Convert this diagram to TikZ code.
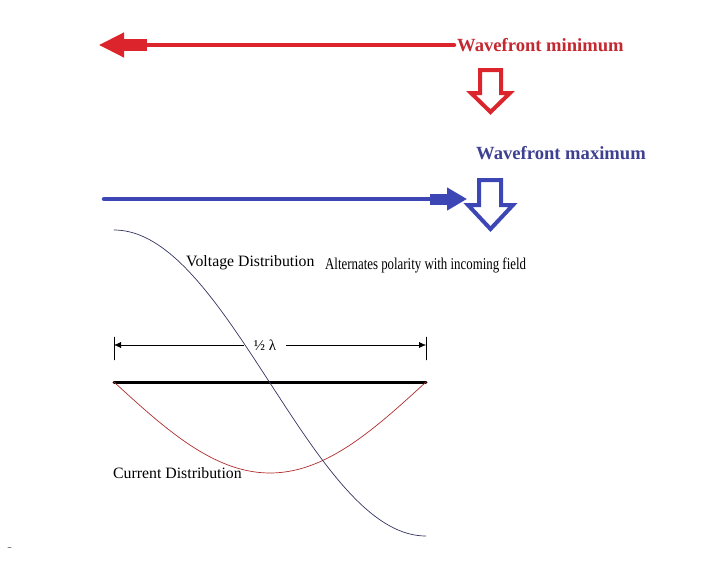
\documentclass[tikz,border=0pt]{standalone}
\usepackage{fontspec}
\setmainfont{Liberation Serif}
\usepackage{xcolor}
\usetikzlibrary{arrows.meta,positioning}

\definecolor{minred}{RGB}{220,36,44}
\definecolor{mintext}{RGB}{196,40,48}
\definecolor{maxblue}{RGB}{60,70,180}
\definecolor{maxtext}{RGB}{62,64,146}
\definecolor{voltline}{RGB}{52,52,96}
\definecolor{currline}{RGB}{176,44,44}

\begin{document}
\begin{tikzpicture}[x=1pt, y=-1pt, line join = round, line cap = round,
    wavelabel/.style={font=\fontsize{18.6}{20}\selectfont\bfseries, inner sep=3pt, anchor=west},
    distlabel/.style={font=\fontsize{15.8}{18}\selectfont, inner sep=0pt, anchor=west},
    hollow/.style={line width=4pt, line join=miter},
    dimarrow/.style={-{Latex[length=7pt,width=6pt]}, thin}]

                  \useasboundingbox (0,0) rectangle (705,570);

                  % wavefronts
                  \node [wavelabel, text=mintext] (minlbl) at (454,45) {Wavefront minimum};
                  \node [wavelabel, text=maxtext] (maxlbl) at (473,153) {Wavefront maximum};
                  \coordinate (redtip) at (99,45);
                  \coordinate (bluestart) at (104,199);
                  \coordinate (bluetip) at (467,199);

                  % half wave element
                  \coordinate (feedL) at (114,382);
                  \coordinate (feedR) at (426,382);
                  \coordinate (dimL) at (114,345);
                  \coordinate (dimR) at (426,345);
                  \node [font=\fontsize{15}{18}\selectfont, inner xsep=10pt, inner ysep=0pt] (halflbl) at (265,345) {½ λ};

                  \node [distlabel] (voltlbl) at (186,263) {Voltage Distribution};
                  \node [distlabel, font=\fontsize{16.5}{18}\selectfont, xscale=0.78, transform shape] (altlbl) at (325,265) {Alternates polarity with incoming field};
                  \node [distlabel] (currlbl) at (113,473) {Current Distribution};

                  \begin{scope}
                    % red arrow to the left
                    \draw [minred, line width=4.5pt, -{Triangle[length=25pt,width=24pt]}] (minlbl.west) -- (redtip);
                    \draw [minred, line width=12pt, line cap=butt] (123,45) -- (147,45);
                    \draw [hollow, minred] (480,70) -- (501,70) -- (501,93) -- (510,93) -- (490.5,112) -- (471,93) -- (480,93) -- cycle;
                    % blue arrow to the right
                    \draw [maxblue, line width=4.5pt, -{Triangle[length=20pt,width=22pt]}] (bluestart) -- (bluetip);
                    \draw [maxblue, line width=11pt, line cap=butt] (430,199) -- (448,199);
                    \draw [hollow, maxblue] (479,180) -- (501,180) -- (501,205) -- (513,205) -- (490.5,229) -- (468,205) -- (479,205) -- cycle;
                  \end{scope}

                  \begin{scope}
                    \draw [thin] (dimL) ++(0,-8) -- ++(0,23);
                    \draw [thin] (dimR) ++(0,-8) -- ++(0,23);
                    \draw [dimarrow] (halflbl) -- (dimL);
                    \draw [dimarrow] (halflbl) -- (dimR);
                    \draw [line width=3pt] (feedL) -- (feedR);
                    \draw [currline, line width=0.7pt] plot [domain=0:1, samples=80] ({114+312*\x},{382+91*sin(180*\x)});
                    \draw [voltline, line width=0.7pt] plot [domain=0:1, samples=80] ({114+312*\x},{383-153*cos(180*\x)});
                  \end{scope}

                  \draw [gray, line width=1pt] (8,547) -- (11,547);

                \end{tikzpicture}
\end{document}
